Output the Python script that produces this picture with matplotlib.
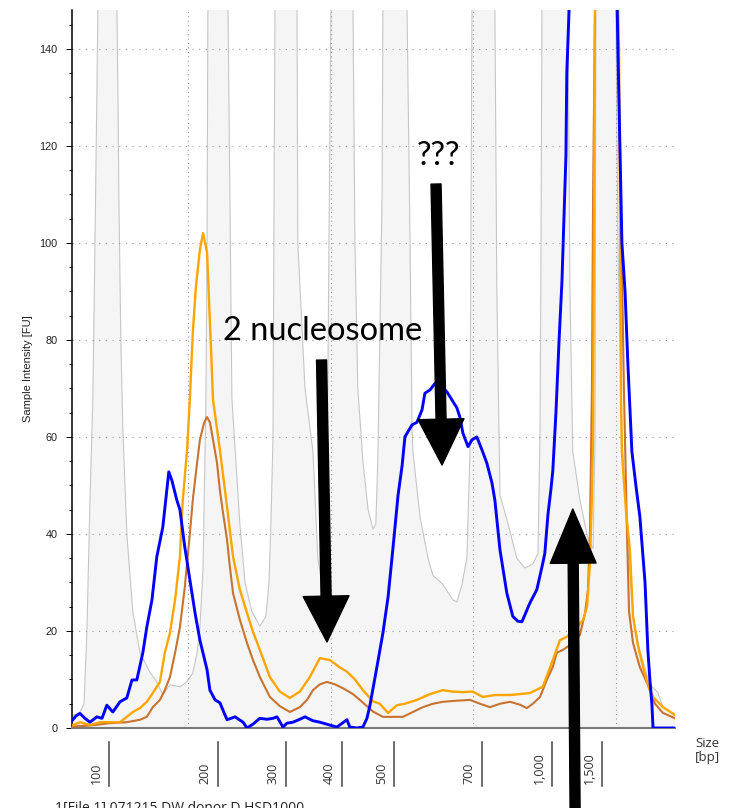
import matplotlib
matplotlib.use("Agg")
import matplotlib.pyplot as plt
import matplotlib.transforms as mtransforms
from matplotlib.patches import FancyArrowPatch
from matplotlib.ticker import MultipleLocator

# migration time [s] vs fluorescence [FU]
ladder_t = [25.94, 26.22, 26.36, 26.46, 26.57, 26.67, 26.74, 26.81, 26.85, 27.20,
            27.51, 27.55, 27.58, 27.65, 27.72, 27.86, 28.07, 28.32, 28.67, 28.91,
            29.12, 29.37, 29.72, 29.96, 30.17, 30.32, 30.42, 30.53, 30.63, 30.67,
            30.70, 31.05, 31.40, 31.47, 31.54, 31.68, 31.82, 32.00, 32.24, 32.52,
            32.73, 32.84, 32.91, 32.98, 33.01, 33.05, 33.43, 33.82, 33.85, 34.10,
            34.38, 34.55, 34.69, 34.83, 34.90, 34.94, 35.01, 35.39, 35.78, 35.85,
            35.95, 36.13, 36.31, 36.48, 36.58, 36.65, 36.72, 36.80, 36.83, 37.22,
            37.67, 37.78, 37.85, 37.88, 38.13, 38.41, 38.58, 38.93, 39.28, 39.42,
            39.60, 39.77, 39.88, 39.91, 39.95, 40.33, 40.75, 40.82, 40.93, 41.17,
            41.52, 41.80, 42.08, 42.26, 42.33, 42.36, 42.40, 42.85, 43.31, 43.38,
            43.48, 43.73, 44.01, 44.19, 44.26, 44.29, 44.61, 44.99, 45.06, 45.20,
            45.38, 45.59, 45.83, 46.18, 46.46, 46.64, 47.06]
ladder_fu = [2.5, 3.3, 5.0, 19.6, 47.0, 68.0, 98.0, 130.0, 150.0, 260.0,
             150.0, 130.0, 110.0, 80.0, 62.0, 40.0, 24.0, 15.5, 11.5, 9.5,
             6.8, 8.9, 8.5, 9.5, 11.3, 15.5, 20.8, 33.0, 68.0, 100.0,
             150.0, 260.0, 150.0, 110.0, 68.0, 55.0, 42.0, 30.0, 24.0, 21.0,
             23.0, 30.0, 43.0, 60.0, 100.0, 150.0, 260.0, 150.0, 100.0, 70.0,
             57.0, 35.0, 30.0, 45.0, 70.0, 100.0, 150.0, 260.0, 150.0, 100.0,
             70.0, 55.0, 45.0, 41.0, 42.0, 55.0, 80.0, 110.0, 150.0, 260.0,
             150.0, 100.0, 62.0, 57.0, 43.5, 35.0, 31.5, 29.6, 26.4, 26.0,
             29.6, 35.0, 57.0, 100.0, 150.0, 260.0, 150.0, 90.0, 48.0, 43.0,
             35.0, 33.0, 33.8, 36.0, 60.0, 90.0, 150.0, 260.0, 150.0, 90.0,
             57.0, 47.0, 39.0, 37.0, 60.0, 150.0, 260.0, 150.0, 100.0, 60.0,
             40.0, 23.0, 16.0, 9.0, 7.3, 4.3, 2.5]

blue_t = [25.94, 26.08, 26.22, 26.39, 26.57, 26.81, 26.99, 27.16, 27.37, 27.62,
          27.86, 28.04, 28.21, 28.42, 28.56, 28.74, 28.91, 29.12, 29.33, 29.44,
          29.61, 29.72, 29.89, 30.07, 30.25, 30.42, 30.67, 30.77, 30.95, 31.12,
          31.37, 31.65, 31.93, 32.07, 32.28, 32.52, 32.77, 32.98, 33.12, 33.33,
          33.47, 33.68, 33.92, 34.10, 34.38, 34.62, 34.97, 35.22, 35.57, 35.67,
          35.92, 36.13, 36.27, 36.37, 36.62, 36.83, 37.01, 37.18, 37.36, 37.50,
          37.60, 37.85, 38.02, 38.20, 38.30, 38.48, 38.65, 38.83, 39.07, 39.25,
          39.42, 39.53, 39.63, 39.81, 39.95, 40.12, 40.30, 40.47, 40.65, 40.75,
          40.93, 41.17, 41.38, 41.56, 41.70, 41.98, 42.22, 42.43, 42.50, 42.61,
          42.71, 42.78, 42.89, 43.00, 43.10, 43.17, 43.24, 43.27, 43.35, 43.56,
          44.26, 44.71, 45.03, 45.06, 45.13, 45.20, 45.31, 45.41, 45.55, 45.69,
          45.83, 46.01, 46.11, 46.18, 46.25, 46.29, 46.53, 47.06]
blue_fu = [1.5, 2.5, 3.0, 2.0, 1.2, 2.3, 2.0, 4.7, 3.3, 5.4,
           6.2, 9.9, 9.9, 15.5, 20.8, 26.4, 35.3, 41.4, 52.8, 51.0,
           47.0, 45.0, 37.3, 30.5, 23.7, 18.1, 12.0, 7.8, 5.8, 5.2,
           1.7, 2.3, 1.2, 0.0, 0.8, 2.0, 1.8, 2.0, 2.3, 0.2,
           1.0, 1.2, 1.8, 2.3, 1.5, 1.2, 0.6, 0.2, 1.7, 0.2,
           0.0, 0.2, 2.0, 4.5, 12.6, 19.6, 27.0, 37.0, 48.0, 54.0,
           60.0, 62.5, 63.0, 65.6, 69.0, 69.7, 71.0, 70.7, 69.3, 67.6,
           66.0, 64.0, 60.8, 58.0, 59.4, 60.0, 57.3, 54.6, 50.5, 47.0,
           36.7, 27.8, 23.0, 22.0, 21.9, 25.8, 28.5, 34.0, 36.0, 44.0,
           49.0, 53.0, 65.0, 80.0, 92.0, 105.0, 118.0, 135.0, 148.0, 200.0,
           320.0, 250.0, 150.0, 140.0, 120.0, 100.0, 90.0, 75.0, 57.0, 50.0,
           43.5, 30.0, 16.0, 10.0, 5.0, 0.0, 0.0, 0.0]

orange_t = [25.94, 26.22, 26.57, 26.92, 27.27, 27.62, 27.86, 28.07, 28.32, 28.56,
            28.77, 29.02, 29.19, 29.37, 29.55, 29.72, 29.82, 29.97, 30.07, 30.17,
            30.28, 30.42, 30.53, 30.67, 30.74, 30.81, 30.88, 31.12, 31.37, 31.58,
            31.82, 32.07, 32.28, 32.52, 32.87, 33.22, 33.57, 33.92, 34.27, 34.62,
            34.97, 35.32, 35.57, 35.85, 36.13, 36.48, 36.72, 37.01, 37.32, 37.60,
            38.02, 38.48, 38.93, 39.28, 39.63, 39.98, 40.33, 40.75, 41.28, 41.63,
            41.98, 42.43, 42.78, 43.03, 43.27, 43.63, 43.84, 43.98, 44.08, 44.15,
            44.19, 44.22, 44.26, 44.68, 45.06, 45.10, 45.17, 45.20, 45.34, 45.48,
            45.59, 45.76, 45.94, 46.11, 46.29, 46.64, 47.06]
orange_fu = [0.5, 1.2, 0.6, 1.2, 1.2, 1.2, 2.3, 3.3, 4.1, 5.4,
             7.2, 9.5, 15.5, 19.6, 26.4, 35.3, 47.0, 57.3, 68.0, 81.4,
             91.0, 98.6, 102.0, 98.0, 88.0, 78.0, 67.6, 57.3, 45.6, 35.3,
             28.5, 23.7, 19.8, 16.1, 10.5, 7.5, 6.2, 7.5, 10.5, 14.4,
             14.0, 12.5, 11.6, 10.0, 7.8, 5.5, 5.0, 3.1, 4.7, 5.0,
             5.8, 7.0, 7.8, 7.5, 7.4, 7.5, 6.4, 6.8, 6.8, 7.0,
             7.2, 8.5, 14.0, 18.1, 18.8, 20.8, 22.3, 25.0, 34.0, 47.6,
             60.0, 100.0, 150.0, 400.0, 150.0, 140.0, 67.6, 57.0, 45.0, 36.7,
             23.0, 17.0, 12.6, 9.0, 6.4, 4.3, 2.7]

brown_t = [25.94, 26.57, 27.27, 27.86, 28.32, 28.56, 28.77, 29.02, 29.19, 29.37,
           29.55, 29.72, 29.89, 30.07, 30.17, 30.32, 30.42, 30.56, 30.67, 30.77,
           30.88, 31.02, 31.12, 31.23, 31.37, 31.47, 31.58, 31.82, 32.07, 32.28,
           32.52, 32.87, 33.22, 33.57, 33.92, 34.17, 34.38, 34.62, 34.87, 35.15,
           35.43, 35.78, 36.02, 36.27, 36.48, 36.83, 37.08, 37.53, 37.88, 38.23,
           38.58, 38.93, 39.35, 39.88, 40.23, 40.58, 40.93, 41.28, 41.63, 41.87,
           42.08, 42.33, 42.57, 42.78, 42.92, 43.13, 43.48, 43.73, 43.91, 44.01,
           44.08, 44.15, 44.19, 44.26, 44.68, 45.03, 45.13, 45.27, 45.38, 45.45,
           45.59, 45.83, 46.08, 46.36, 46.64, 47.06]
brown_fu = [0.3, 0.5, 1.0, 1.2, 1.7, 2.3, 4.3, 5.8, 7.8, 10.5,
            15.5, 20.8, 29.0, 40.2, 47.0, 54.6, 59.4, 62.8, 64.1, 63.0,
            59.4, 54.6, 49.0, 44.3, 38.8, 33.2, 27.8, 22.3, 17.5, 14.0,
            10.5, 6.4, 4.5, 3.3, 4.3, 5.8, 7.8, 9.0, 9.5, 9.0,
            8.2, 7.0, 5.8, 4.5, 3.4, 2.3, 2.3, 2.3, 3.3, 4.3,
            5.0, 5.4, 5.6, 5.8, 5.0, 4.3, 5.0, 5.4, 4.8, 4.1,
            5.0, 6.4, 9.9, 12.6, 15.5, 16.1, 17.5, 19.2, 23.7, 28.5,
            40.0, 70.0, 109.0, 150.0, 380.0, 150.0, 120.0, 70.0, 40.0, 24.0,
            17.5, 12.5, 9.3, 5.0, 3.1, 2.0]

# ladder sizes and where they sit on the time axis
size_labels = ["100", "200", "300", "400", "500", "700", "1,000", "1,500"]
size_t = [27.22, 31.05, 33.42, 35.38, 37.21, 40.29, 42.74, 44.51]
grid_t = [30, 35, 40, 45]
fu_ticks = [0, 20, 40, 60, 80, 100, 120, 140]

fig = plt.figure(figsize=(7.31, 8.08), dpi=100)
ax = fig.add_axes([0.0985, 0.099, 0.8249, 0.8886])

ax.fill_between(ladder_t, ladder_fu, color="#f5f5f5", lw=0, zorder=1)
ax.plot(ladder_t, ladder_fu, color="#c6c6c6", lw=0.8, zorder=1.2)
ax.plot(brown_t, brown_fu, color="#c8732f", lw=1.5, zorder=3)
ax.plot(orange_t, orange_fu, color="#ffa500", lw=1.7, zorder=4)
ax.plot(blue_t, blue_fu, color="#0000ff", lw=2.1, zorder=5)

ax.set_xlim(25.94, 47.06)
ax.set_ylim(0, 148)
ax.set_xticks(grid_t)
ax.tick_params(axis="x", length=0, labelbottom=False)
ax.set_yticks(fu_ticks)
ax.yaxis.set_minor_locator(MultipleLocator(5))
ax.tick_params(axis="y", which="major", direction="out", length=4.3, width=0.7,
               pad=6, labelsize=7.8, labelcolor="#222222", labelfontfamily="Liberation Sans")
ax.tick_params(axis="y", which="minor", direction="out", length=2.2, width=0.7)

ax.set_axisbelow("line")
ax.xaxis.grid(True, color="#9a9a9a", lw=0.8, linestyle=(0, (1, 3)))
ax.yaxis.grid(True, which="major", color="#9a9a9a", lw=0.8, linestyle=(0, (1, 5)))

for side in ["top", "right"]:
    ax.spines[side].set_visible(False)
ax.spines["left"].set_color("black")
ax.spines["left"].set_linewidth(1.1)
ax.spines["bottom"].set_color("#7a7a7a")
ax.spines["bottom"].set_linewidth(1.5)

ax.set_ylabel("Sample Intensity [FU]", fontsize=8, family="Liberation Sans", color="#222222")
ax.yaxis.set_label_coords(-0.0647, 0.5)

# size scale below the plot: a bar per ladder size with the label to its left
below = mtransforms.blended_transform_factory(ax.transData, ax.transAxes)
label_tr = mtransforms.offset_copy(below, fig=fig, x=-6, y=0, units="dots")
for t, lab in zip(size_t, size_labels):
    ax.plot([t, t], [-0.0191, -0.0808], transform=below, color="#444444", lw=1.1, clip_on=False)
    ax.text(t, -0.078, lab, transform=label_tr, rotation=90, ha="right", va="bottom",
            fontsize=9, family="Open Sans", color="#333333")

fig.text(695 / 731, 1 - 737 / 808, "Size\n[bp]", ha="left", va="top", fontsize=9.5,
         family="Open Sans", color="#333333", linespacing=1.1)
fig.text(55 / 731, 1 - 801 / 808, "1[File 1] 071215 DW donor D HSD1000", ha="left", va="top",
         fontsize=10, family="Open Sans", color="#222222")

# annotations
ax.text(31.23, 80.0, "2 nucleosome", fontsize=23.5, family="Lato", va="baseline", zorder=10)
ax.text(38.02, 116.1, "???", fontsize=23.5, family="Lato", va="baseline", zorder=10)


def big_arrow(tail, tip, head_len=33):
    style = f"simple,head_length={head_len},head_width=33,tail_width=7.2"
    arr = FancyArrowPatch(tail, tip, arrowstyle=style, mutation_scale=1, color="black",
                          shrinkA=0, shrinkB=0, zorder=10, clip_on=False, transform=ax.transData)
    ax.add_patch(arr)


big_arrow((34.68, 75.85), (34.87, 17.73))
big_arrow((38.69, 112.13), (38.90, 54.21))
big_arrow((43.56, -16.5), (43.48, 45.14), head_len=39)

plt.savefig("out.png", dpi=100)
